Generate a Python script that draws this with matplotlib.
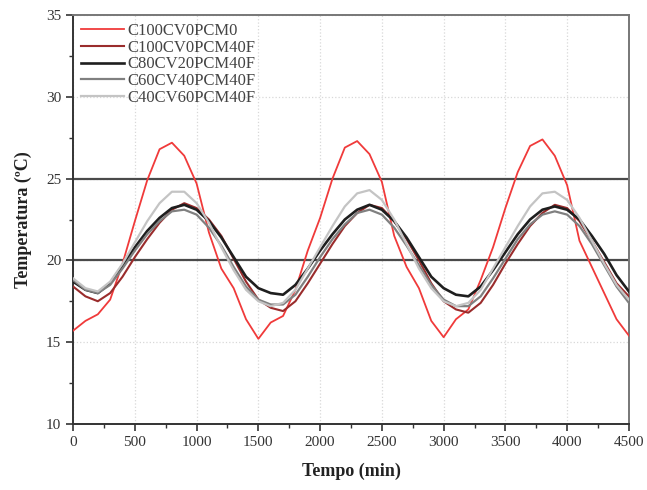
import matplotlib
matplotlib.use("Agg")
import matplotlib.pyplot as plt
from matplotlib.ticker import MultipleLocator

# time axis, minutes
tempo = list(range(0, 4501, 100))

c100cv0pcm0 = [15.7, 16.3, 16.7, 17.6, 19.8, 22.4, 24.9, 26.8, 27.2, 26.4,
               24.7, 21.7, 19.5, 18.3, 16.4, 15.2, 16.2, 16.6, 18.2, 20.6,
               22.6, 25.0, 26.9, 27.3, 26.5, 24.8, 21.5, 19.6, 18.3, 16.3,
               15.3, 16.4, 17.0, 18.8, 20.8, 23.2, 25.4, 27.0, 27.4, 26.4,
               24.6, 21.2, 19.6, 18.0, 16.4, 15.4]
c100cv0pcm40f = [18.4, 17.8, 17.5, 18.0, 19.0, 20.2, 21.3, 22.3, 23.1, 23.5,
                 23.2, 22.5, 21.5, 20.1, 18.7, 17.6, 17.1, 16.9, 17.5, 18.6,
                 19.8, 21.0, 22.1, 22.9, 23.4, 23.2, 22.4, 21.3, 20.0, 18.6,
                 17.5, 17.0, 16.8, 17.4, 18.5, 19.8, 21.0, 22.1, 22.9, 23.4,
                 23.2, 22.4, 21.2, 19.9, 18.6, 17.8]
c80cv20pcm40f = [18.7, 18.2, 18.0, 18.6, 19.7, 20.8, 21.8, 22.6, 23.2, 23.4,
                 23.1, 22.4, 21.4, 20.2, 19.0, 18.3, 18.0, 17.9, 18.5, 19.5,
                 20.6, 21.6, 22.5, 23.1, 23.4, 23.1, 22.4, 21.4, 20.2, 19.0,
                 18.3, 17.9, 17.8, 18.4, 19.4, 20.5, 21.6, 22.5, 23.1, 23.3,
                 23.1, 22.5, 21.5, 20.4, 19.1, 18.1]
c60cv40pcm40f = [18.8, 18.2, 18.0, 18.5, 19.5, 20.6, 21.6, 22.4, 23.0, 23.1,
                 22.8, 22.0, 20.9, 19.6, 18.4, 17.6, 17.3, 17.3, 17.9, 19.0,
                 20.2, 21.3, 22.2, 22.9, 23.1, 22.8, 22.0, 20.9, 19.7, 18.5,
                 17.6, 17.2, 17.2, 17.8, 18.9, 20.1, 21.3, 22.2, 22.8, 23.0,
                 22.8, 22.1, 21.0, 19.7, 18.4, 17.4]
c40cv60pcm40f = [18.9, 18.3, 18.1, 18.7, 19.8, 21.1, 22.4, 23.5, 24.2, 24.2,
                 23.5, 22.3, 20.8, 19.4, 18.2, 17.5, 17.2, 17.4, 18.2, 19.5,
                 20.8, 22.1, 23.3, 24.1, 24.3, 23.7, 22.5, 21.0, 19.5, 18.3,
                 17.5, 17.2, 17.4, 18.2, 19.5, 20.8, 22.1, 23.3, 24.1, 24.2,
                 23.7, 22.6, 21.2, 19.8, 18.5, 17.6]

labels = ["C100CV0PCM0", "C100CV0PCM40F", "C80CV20PCM40F",
          "C60CV40PCM40F", "C40CV60PCM40F"]
limits = [20, 25]

plt.rcParams["font.family"] = ["Liberation Serif", "DejaVu Serif"]

fig = plt.figure(figsize=(6.47, 4.90), dpi=100)
ax = fig.add_axes([0.113, 0.135, 0.859, 0.834])

ax.grid(True, color="#d8d8d8", linestyle=":", linewidth=0.9, zorder=0)
for lim in limits:
    ax.axhline(lim, color="#4a4a4a", linewidth=1.6, zorder=2)

styles = [
    (c100cv0pcm0, "#f03a3a", 1.3),
    (c100cv0pcm40f, "#9a2c2c", 1.5),
    (c80cv20pcm40f, "#1e1e1e", 1.9),
    (c60cv40pcm40f, "#808080", 1.6),
    (c40cv60pcm40f, "#c4c4c4", 1.6),
]
for (values, color, lw), label in zip(styles, labels):
    ax.plot(tempo, values, color=color, linewidth=lw, label=label, zorder=3)

ax.set_xlim(0, 4500)
ax.set_ylim(10, 35)
ax.xaxis.set_major_locator(MultipleLocator(500))
ax.xaxis.set_minor_locator(MultipleLocator(250))
ax.yaxis.set_major_locator(MultipleLocator(5))
ax.yaxis.set_minor_locator(MultipleLocator(2.5))
ax.tick_params(which="major", direction="out", length=5, width=1.2,
               labelsize=11, colors="#333333")
ax.tick_params(which="minor", direction="out", length=3, width=1.0,
               colors="#333333")
for side in ["left", "bottom"]:
    ax.spines[side].set_linewidth(1.4)
    ax.spines[side].set_color("#333333")
for side in ["top", "right"]:
    ax.spines[side].set_linewidth(1.4)
    ax.spines[side].set_color("#777777")

ax.set_xlabel("Tempo (min)", fontsize=13, fontweight="bold", color="#222222",
              labelpad=10)
ax.set_ylabel("Temperatura (\u00baC)", fontsize=13, fontweight="bold",
              color="#222222", labelpad=10)

leg = ax.legend(loc="upper left", frameon=False, fontsize=12,
                handlelength=2.6, handletextpad=0.2, labelspacing=0.05,
                borderaxespad=0.15, borderpad=0.3)
for text in leg.get_texts():
    text.set_color("#444444")

fig.savefig("out.png", dpi=100)
